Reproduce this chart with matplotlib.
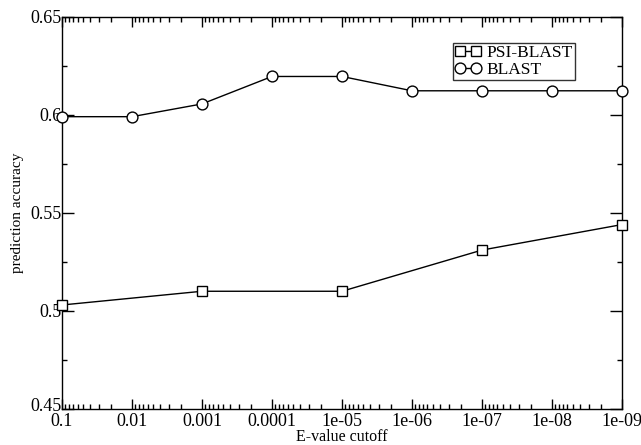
import matplotlib
matplotlib.use("Agg")
import matplotlib.pyplot as plt
import matplotlib.transforms as mtransforms
from matplotlib.ticker import LogLocator, MultipleLocator, NullFormatter

# data
psi_cutoffs = [1e-1, 1e-3, 1e-5, 1e-7, 1e-9]
psi_acc     = [0.503, 0.510, 0.510, 0.531, 0.544]

blast_cutoffs = [1e-1, 1e-2, 1e-3, 1e-4, 1e-5, 1e-6, 1e-7, 1e-8, 1e-9]
blast_acc     = [0.599, 0.599, 0.6055, 0.6195, 0.6195, 0.6122, 0.6122, 0.6122, 0.6122]

xtick_vals   = [1e-1, 1e-2, 1e-3, 1e-4, 1e-5, 1e-6, 1e-7, 1e-8, 1e-9]
xtick_labels = ["0.1", "0.01", "0.001", "0.0001", "1e-05", "1e-06", "1e-07", "1e-08", "1e-09"]
ytick_vals   = [0.45, 0.5, 0.55, 0.6, 0.65]
ytick_labels = ["0.45", "0.5", "0.55", "0.6", "0.65"]

plt.rcParams["font.family"] = ["Liberation Serif", "DejaVu Serif"]

fig = plt.figure(figsize=(6.41, 4.45), dpi=100)
ax = fig.add_axes([0.0967, 0.081, 0.8736, 0.8816])

ax.plot(psi_cutoffs, psi_acc, color="black", linewidth=1.0, marker="s",
        markersize=6.8, markerfacecolor="white", markeredgecolor="black",
        markeredgewidth=1.0, label="PSI-BLAST", clip_on=False, zorder=3)
ax.plot(blast_cutoffs, blast_acc, color="black", linewidth=1.0, marker="o",
        markersize=7.8, markerfacecolor="white", markeredgecolor="black",
        markeredgewidth=1.0, label="BLAST", clip_on=False, zorder=3)

ax.set_xscale("log")
ax.set_xlim(1e-1, 1e-9)
ax.set_ylim(0.45, 0.65)

ax.set_xticks(xtick_vals)
ax.set_xticklabels(xtick_labels)
ax.xaxis.set_minor_locator(LogLocator(base=10, subs=range(2, 10), numticks=20))
ax.xaxis.set_minor_formatter(NullFormatter())
ax.set_yticks(ytick_vals)
ax.set_yticklabels(ytick_labels)
ax.yaxis.set_minor_locator(MultipleLocator(0.025))

ax.tick_params(which="both", direction="in", top=True, right=True,
               width=1.0, labelsize=13)
ax.tick_params(axis="x", which="major", length=7, pad=3)
ax.tick_params(axis="x", which="minor", length=3.6)
ax.tick_params(axis="y", which="major", length=8.5, pad=0)
ax.tick_params(axis="y", which="minor", length=3.6)

# lift the bottom y label a little, as in the original
lab = ax.get_yticklabels()[0]
lab.set_transform(lab.get_transform() +
                  mtransforms.ScaledTranslation(0, 3 / 72, fig.dpi_scale_trans))

for s in ax.spines.values():
    s.set_linewidth(1.0)

ax.set_xlabel("E-value cutoff", fontsize=11.5, labelpad=-1)
ax.set_ylabel("prediction accuracy", fontsize=11, labelpad=5)

leg = ax.legend(loc="upper left", bbox_to_anchor=(0.698, 0.934), numpoints=2,
                handlelength=1.5, handletextpad=0.3, borderpad=0.12,
                labelspacing=0.05, fontsize=12.5, fancybox=False, frameon=True,
                borderaxespad=0)
leg.get_frame().set_edgecolor("black")
leg.get_frame().set_linewidth(1.0)

fig.savefig("out.png", dpi=100)
